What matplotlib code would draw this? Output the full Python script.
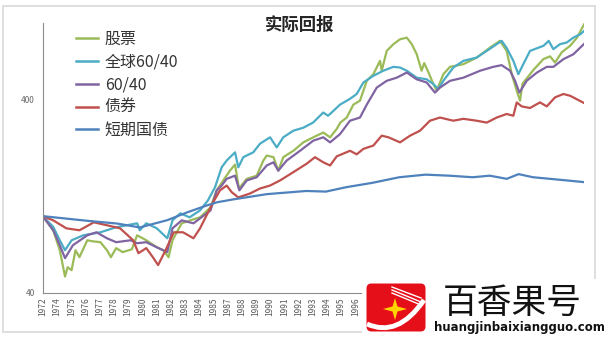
import matplotlib
matplotlib.use("Agg")
import matplotlib.pyplot as plt
from matplotlib.patches import Rectangle, FancyBboxPatch, Polygon, PathPatch
from matplotlib.path import Path
from matplotlib.ticker import NullLocator

plt.rcParams['font.family'] = ['Noto Sans CJK SC', 'DejaVu Sans']

# real return index, start = 100, sampled at turning points (decimal years)
stocks_t = [1972.9, 1973.7, 1974.2, 1974.6, 1974.8, 1975.1, 1975.4, 1975.7, 1976.3, 1976.7,
            1977.3, 1977.8, 1978.1, 1978.5, 1979.0, 1979.7, 1980.1, 1980.8, 1981.6, 1982.1,
            1982.5, 1982.8, 1983.5, 1984.4, 1984.9, 1985.7, 1986.17, 1986.67, 1987.18, 1987.57,
            1987.87, 1988.46, 1989.22, 1989.73, 1989.99, 1990.5, 1990.87, 1991.25, 1992.02, 1992.78,
            1993.54, 1994.3, 1994.82, 1995.33, 1995.6, 1996.09, 1996.6, 1997.1, 1997.62, 1998.12,
            1998.63, 1998.76, 1999.14, 1999.65, 2000.16, 2000.67, 2001.05, 2001.43, 2001.8, 2002.0,
            2002.3, 2002.7, 2002.95, 2003.46, 2003.97, 2004.99, 2006.0, 2007.02, 2007.78, 2008.29,
            2008.68, 2009.06, 2009.31, 2009.5, 2010.32, 2011.09, 2011.6, 2011.98, 2012.49, 2013.13,
            2013.64, 2014.2]
stocks_v = [100, 84.5, 66.6, 48.7, 54.4, 52.5, 66.6, 61.3, 75, 74.1,
            73.3, 66.6, 61.3, 68.3, 65.1, 67.4, 79.6, 75, 69, 66.6,
            61.3, 75, 91.8, 96.3, 98.6, 111, 136, 153, 172, 185,
            139, 156, 162, 194, 206, 202, 172, 202, 218, 241,
            256, 271, 256, 283, 305, 324, 378, 396, 502, 543,
            637, 566, 717, 777, 824, 840, 777, 689, 566, 620,
            560, 483, 446, 543, 593, 612, 662, 746, 808, 717,
            543, 446, 396, 485, 570, 650, 672, 624, 705, 762,
            837, 985]

global_t = [1972.9, 1973.7, 1974.2, 1974.6, 1975.1, 1976.0, 1977.3, 1978.5, 1979.3, 1980.1,
            1980.3, 1980.8, 1981.6, 1982.0, 1982.4, 1982.8, 1983.4, 1984.1, 1984.9, 1985.5,
            1986.04, 1986.55, 1986.93, 1987.57, 1987.82, 1988.2, 1988.96, 1989.47, 1990.24, 1990.75,
            1991.25, 1992.02, 1992.78, 1993.52, 1994.3, 1994.66, 1994.82, 1995.58, 1996.34, 1996.85,
            1997.36, 1998.12, 1998.88, 1999.65, 2000.16, 2000.67, 2001.43, 2002.19, 2002.7, 2003.08,
            2003.46, 2004.22, 2004.99, 2006.0, 2006.77, 2007.53, 2007.91, 2008.29, 2008.8, 2009.18,
            2009.56, 2010.07, 2011.1, 2011.5, 2011.85, 2012.36, 2012.87, 2013.38, 2013.89, 2014.2]
global_v = [100, 88, 75, 66.6, 75, 79.6, 82.5, 87.6, 89.7, 91.8,
            84.5, 91.8, 86.5, 81.5, 76.8, 95.1, 103.4, 98.6, 107.1, 120.6,
            141, 179, 194, 214, 179, 202, 214, 237, 256, 227,
            256, 277, 287, 305, 344, 331, 338, 378, 405, 429,
            492, 533, 566, 593, 588, 566, 521, 511, 483, 455,
            502, 588, 637, 662, 717, 777, 808, 743, 637, 543,
            612, 717, 762, 808, 732, 777, 792, 840, 873, 910]

mix_t = [1972.9, 1973.7, 1974.2, 1974.6, 1975.2, 1976.3, 1977.0, 1977.8, 1978.5, 1979.6,
         1980.1, 1980.8, 1981.6, 1982.4, 1982.8, 1983.5, 1984.4, 1984.9, 1985.7, 1986.17,
         1986.55, 1986.93, 1987.57, 1987.9, 1988.46, 1989.22, 1989.99, 1990.5, 1990.87, 1991.51,
         1992.53, 1993.54, 1994.3, 1994.82, 1995.58, 1996.34, 1997.1, 1997.62, 1998.38, 1999.14,
         1999.9, 2000.67, 2001.43, 2002.19, 2002.82, 2003.2, 2003.97, 2004.99, 2006.26, 2007.27,
         2007.91, 2008.55, 2008.93, 2009.26, 2009.82, 2010.6, 2011.35, 2011.86, 2012.62, 2013.38,
         2014.2]
mix_v = [100, 84.5, 70.7, 60.6, 70.7, 79.6, 82.5, 76.8, 73.3, 75,
         72.4, 73.3, 69, 65.1, 86.5, 95.1, 91.8, 97.4, 107.1, 136,
         144, 156, 162, 136, 153, 159, 183, 190, 172, 194,
         218, 246, 256, 241, 266, 312, 324, 378, 463, 502,
         521, 554, 511, 492, 436, 463, 502, 521, 566, 593,
         605, 566, 502, 436, 502, 554, 593, 593, 650, 689,
         780]

bonds_t = [1972.9, 1973.7, 1974.7, 1975.7, 1976.8, 1977.8, 1978.8, 1979.8, 1980.2, 1980.8,
           1981.3, 1981.7, 1982.2, 1982.9, 1983.6, 1984.4, 1984.9, 1985.9, 1986.42, 1986.93,
           1987.32, 1987.82, 1988.71, 1989.47, 1990.24, 1991.0, 1992.02, 1993.04, 1993.67, 1994.3,
           1994.82, 1995.33, 1996.34, 1996.85, 1997.36, 1998.12, 1998.76, 1999.27, 2000.16, 2000.92,
           2001.68, 2002.44, 2003.2, 2004.22, 2004.99, 2006.0, 2006.77, 2007.53, 2008.29, 2008.8,
           2009.06, 2009.44, 2010.07, 2010.83, 2011.35, 2011.98, 2012.62, 2013.13, 2013.64, 2014.2]
bonds_v = [100, 95.1, 86.5, 84.5, 92.9, 89.7, 86.5, 75, 64.3, 68.3,
           61.3, 55.8, 65.1, 82.5, 82.5, 76.8, 86.5, 118, 136, 144,
           133, 125, 131, 139, 144, 153, 169, 187, 202, 190,
           183, 204, 218, 209, 223, 232, 261, 256, 241, 261,
           277, 312, 324, 312, 319, 312, 305, 324, 338, 331,
           388, 370, 363, 388, 370, 412, 429, 420, 403, 385]

bills_t = [1972.9, 1976.3, 1978.6, 1980.3, 1982.4, 1983.9, 1985.4, 1986.2, 1987.4, 1990.0,
           1993.0, 1994.5, 1996.0, 1998.1, 2000.1, 2002.1, 2003.9, 2005.7, 2007.0, 2008.3,
           2009.2, 2010.3, 2011.6, 2012.9, 2014.2]
bills_v = [100, 94.6, 91.5, 87.4, 95.3, 104.5, 113.5, 118, 122, 130,
           135, 134, 141, 149, 159, 164, 162, 159, 162, 156,
           165, 159, 156, 153, 150]

series_names = ['股票', '全球60/40', '60/40', '债券', '短期国债']
series_colors = ['#9BBB59', '#4BACC6', '#8064A2', '#C0504D', '#4F81BD']

# one label every 13 months from Dec 1972; later ones sit under the badge
tick_labels = ['1972', '1974', '1975', '1976', '1977', '1978', '1979', '1980', '1981', '1982',
               '1983', '1984', '1985', '1987', '1988', '1989', '1990', '1991', '1992', '1993',
               '1994', '1995', '1996']
tick_start = 1972.92

W, H = 612, 338
def fx(px):
    return px / W
def fy(py):
    return 1 - py / H

fig = plt.figure(figsize=(W / 100, H / 100), dpi=100)

ax = fig.add_axes([fx(43), fy(293), (584 - 43) / W, (293 - 23) / H])
data = [(stocks_t, stocks_v), (global_t, global_v), (mix_t, mix_v),
        (bonds_t, bonds_v), (bills_t, bills_v)]
for (t, v), name, c in zip(data, series_names, series_colors):
    ax.plot(t, v, color=c, lw=1.6, label=name)

ax.set_yscale('log')
ax.set_ylim(40, 1000)
ax.set_xlim(1972.92, 2014.19)
ax.set_yticks([40, 400])
ax.set_yticklabels(['40', '400'])
ax.yaxis.set_minor_locator(NullLocator())
ax.tick_params(axis='y', length=0, labelsize=6, colors='#666666', pad=6)
ax.set_xticks([tick_start + k * 13 / 12 for k in range(len(tick_labels))])
ax.set_xticklabels(tick_labels, rotation=90)
ax.tick_params(axis='x', length=0, labelsize=6, colors='#595959', pad=3)
for s in ['top', 'right']:
    ax.spines[s].set_visible(False)
for s in ['left', 'bottom']:
    ax.spines[s].set_color('#8c8c8c')
    ax.spines[s].set_linewidth(0.8)

leg = ax.legend(loc='upper left', bbox_to_anchor=(fx(76), fy(31)),
                bbox_transform=fig.transFigure, frameon=False, fontsize=11.5,
                handlelength=1.35, handletextpad=0.45, labelspacing=0.36,
                borderpad=0, borderaxespad=0)
for txt in leg.get_texts():
    txt.set_color('#333333')
for line in leg.get_lines():
    line.set_linewidth(1.8)

fig.text(fx(300), fy(25), '实际回报', ha='center', va='center',
         fontsize=12.5, weight='bold', color='#262626')

fig.patches.append(Rectangle((fx(3), fy(332)), (595 - 3) / W, (332 - 6) / H,
                             transform=fig.transFigure, fill=False,
                             edgecolor='#d9d9d9', lw=1.2, zorder=-1))

# site badge in the lower right corner
wm = fig.add_axes([fx(362), 0, (612 - 362) / W, (338 - 279) / H])
wm.set_xlim(362, 612)
wm.set_ylim(338, 279)
wm.axis('off')
wm.add_patch(Rectangle((362, 279), 250, 59, color='white', zorder=0))
wm.add_patch(FancyBboxPatch((368, 285), 56, 45, boxstyle='round,pad=1.5,rounding_size=5',
                            facecolor='#E50F1A', edgecolor='none', zorder=1))
swoosh = Path([(367, 324), (398, 338), (424, 300)], [Path.MOVETO, Path.CURVE3, Path.CURVE3])
wm.add_patch(PathPatch(swoosh, facecolor='none', edgecolor='white', lw=3.5, zorder=2))
for y0, y1 in [(287, 298), (290, 302), (293, 305)]:
    wm.plot([392, 421], [y0, y1], color='white', lw=1.0, zorder=2)
cx, cy = 395, 309
star = [(cx, cy - 11), (cx + 2.5, cy - 2.5), (cx + 12, cy), (cx + 2.5, cy + 2.5),
        (cx, cy + 11), (cx - 2.5, cy + 2.5), (cx - 12, cy), (cx - 2.5, cy - 2.5)]
wm.add_patch(Polygon(star, closed=True, facecolor='#FFD400', edgecolor='none', zorder=3))
wm.text(512, 303, '百香果号', ha='center', va='center', fontsize=25, color='#111111')
wm.text(519, 327, 'huangjinbaixiangguo.com', ha='center', va='center', fontsize=8.5,
        weight='bold', family='DejaVu Sans', color='#111111')

fig.savefig('out.png', dpi=100)
